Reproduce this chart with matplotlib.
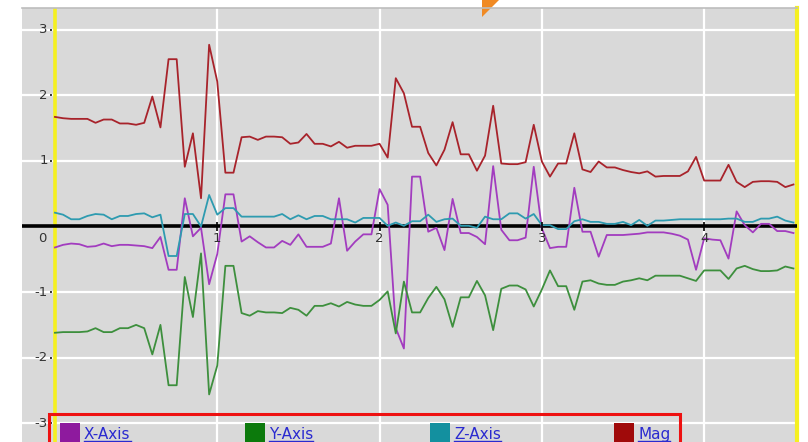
import numpy as np
import matplotlib.pyplot as plt
from matplotlib.patches import Rectangle, Polygon
from matplotlib.lines import Line2D

# accelerometer samples, one every 0.05 s
dt = 0.05
x_axis = [-0.32, -0.28, -0.26, -0.27, -0.31, -0.30, -0.26, -0.30, -0.28, -0.28,
          -0.29, -0.30, -0.33, -0.16, -0.66, -0.66, 0.43, -0.15, -0.02, -0.88,
          -0.42, 0.49, 0.49, -0.23, -0.15, -0.24, -0.32, -0.32, -0.22, -0.28,
          -0.12, -0.31, -0.31, -0.31, -0.26, 0.43, -0.37, -0.23, -0.12, -0.12,
          0.57, 0.33, -1.55, -1.86, 0.76, 0.76, -0.08, -0.02, -0.36, 0.42,
          -0.10, -0.10, -0.16, -0.27, 0.92, -0.05, -0.21, -0.21, -0.17, 0.91,
          -0.03, -0.33, -0.31, -0.31, 0.59, -0.08, -0.08, -0.46, -0.13, -0.13,
          -0.13, -0.12, -0.11, -0.09, -0.09, -0.09, -0.11, -0.14, -0.20, -0.66,
          -0.18, -0.20, -0.21, -0.49, 0.23, 0.02, -0.09, 0.04, 0.04, -0.07,
          -0.07, -0.10]
y_axis = [-1.62, -1.61, -1.61, -1.61, -1.60, -1.55, -1.61, -1.61, -1.55, -1.55,
          -1.50, -1.55, -1.95, -1.50, -2.42, -2.42, -0.77, -1.38, -0.41, -2.56,
          -2.12, -0.60, -0.60, -1.32, -1.36, -1.29, -1.31, -1.31, -1.32, -1.24,
          -1.27, -1.36, -1.21, -1.21, -1.17, -1.22, -1.15, -1.19, -1.21, -1.21,
          -1.12, -0.99, -1.63, -0.84, -1.31, -1.31, -1.09, -0.92, -1.11, -1.53,
          -1.08, -1.08, -0.83, -1.05, -1.58, -0.95, -0.90, -0.90, -0.96, -1.22,
          -0.96, -0.67, -0.91, -0.91, -1.27, -0.84, -0.82, -0.87, -0.89, -0.89,
          -0.84, -0.82, -0.79, -0.82, -0.75, -0.75, -0.75, -0.75, -0.79, -0.83,
          -0.67, -0.67, -0.67, -0.80, -0.64, -0.60, -0.65, -0.68, -0.68, -0.67,
          -0.61, -0.64]
z_axis = [0.21, 0.18, 0.11, 0.11, 0.16, 0.19, 0.18, 0.11, 0.16, 0.16,
          0.19, 0.20, 0.14, 0.18, -0.45, -0.45, 0.19, 0.19, 0.00, 0.48,
          0.18, 0.28, 0.28, 0.15, 0.15, 0.15, 0.15, 0.15, 0.19, 0.11,
          0.17, 0.11, 0.16, 0.16, 0.11, 0.11, 0.11, 0.06, 0.13, 0.13,
          0.13, 0.01, 0.06, 0.01, 0.08, 0.08, 0.18, 0.07, 0.11, 0.12,
          0.01, 0.01, -0.02, 0.15, 0.11, 0.11, 0.20, 0.20, 0.12, 0.19,
          0.02, 0.02, -0.04, -0.04, 0.08, 0.11, 0.07, 0.07, 0.04, 0.04,
          0.07, 0.02, 0.10, 0.01, 0.09, 0.09, 0.10, 0.11, 0.11, 0.11,
          0.11, 0.11, 0.11, 0.12, 0.12, 0.07, 0.07, 0.12, 0.12, 0.15,
          0.09, 0.06]
mag = [1.67, 1.65, 1.64, 1.64, 1.64, 1.58, 1.63, 1.63, 1.57, 1.57,
       1.55, 1.58, 1.98, 1.51, 2.55, 2.55, 0.91, 1.42, 0.43, 2.77,
       2.21, 0.82, 0.82, 1.36, 1.37, 1.32, 1.37, 1.37, 1.36, 1.26,
       1.28, 1.41, 1.26, 1.26, 1.22, 1.29, 1.20, 1.23, 1.23, 1.23,
       1.26, 1.05, 2.26, 2.03, 1.52, 1.52, 1.12, 0.93, 1.17, 1.59,
       1.10, 1.10, 0.85, 1.08, 1.84, 0.96, 0.95, 0.95, 0.98, 1.55,
       0.99, 0.76, 0.96, 0.96, 1.42, 0.87, 0.83, 0.99, 0.90, 0.90,
       0.86, 0.83, 0.81, 0.84, 0.76, 0.77, 0.77, 0.77, 0.84, 1.06,
       0.70, 0.70, 0.70, 0.94, 0.68, 0.60, 0.68, 0.69, 0.69, 0.68,
       0.60, 0.64]

series_names = ['X-Axis', 'Y-Axis', 'Z-Axis', 'Mag']
line_colors = ['#a23cbf', '#3d8f3d', '#2e9bb0', '#a8232b']
key_colors = ['#8e1a9e', '#0c7a0c', '#13909f', '#a00a0a']
y_ticks = [-3, -2, -1, 1, 2, 3]
x_ticks = [1, 2, 3, 4]

W, H = 808, 442
fig = plt.figure(figsize=(W / 100, H / 100), dpi=100)
fig.patch.set_facecolor('white')


def fx(px):
    return px / W


def fy(py):
    return 1 - py / H


ax = fig.add_axes([fx(22), 0, fx(797) - fx(22), fy(8)])
ax.set_facecolor('#d9d9d9')
ax.set_xlim(-0.203, 4.572)
ax.set_ylim(-3.285, 3.33)
ax.set_xticks([])
ax.set_yticks([])
for side in ['top', 'bottom', 'left']:
    ax.spines[side].set_visible(False)
ax.spines['right'].set_color('#f5f020')
ax.spines['right'].set_linewidth(3)

# grid
for v in y_ticks:
    ax.axhline(v, color='white', lw=1.6, zorder=1)
for v in x_ticks:
    ax.axvline(v, color='white', lw=1.6, zorder=1)
ax.axvline(0, color='#f5f020', lw=2.6, zorder=2)
ax.axhline(0, color='black', lw=2.6, zorder=3)

t = np.arange(len(mag)) * dt
for vals, c in zip([x_axis, y_axis, z_axis, mag], line_colors):
    ax.plot(t, vals, color=c, lw=1.3, zorder=4)

# axis labels drawn inside the plot area
for v in y_ticks:
    ax.text(-0.045, v, str(v), ha='right', va='center', fontsize=9.5, color='#333333', zorder=5)
    ax.plot([-0.032, -0.004], [v, v], color='#333333', lw=1.4, ls=(0, (1, 1.2)), zorder=5)
ax.text(-0.075, -0.08, '0', ha='center', va='top', fontsize=9.5, color='#333333', zorder=5)
for v in x_ticks:
    ax.vlines(v, -0.07, 0.07, color='black', lw=1.2, zorder=5)
    ax.text(v, -0.08, str(v), ha='center', va='top', fontsize=9.5, color='#333333', zorder=5)

# top bar shadow and marker
fig.add_artist(Line2D([fx(22), fx(797)], [fy(8), fy(8)], color='#bdbdbd', lw=1.2))
fig.add_artist(Polygon([[fx(482), fy(17)], [fx(482), fy(0)], [fx(499), fy(0)]],
                       closed=True, color='#f08a24', lw=0))

# legend strip
fig.add_artist(Rectangle((fx(49), fy(444)), fx(680) - fx(49), fy(414) - fy(444),
                         fill=False, edgecolor='#ee1111', lw=2.2))
key_x = [60, 245, 430, 614]
labels = []
for px, name, c in zip(key_x, series_names, key_colors):
    fig.add_artist(Rectangle((fx(px), fy(444)), fx(20), fy(423) - fy(444),
                             facecolor=c, edgecolor='none'))
    lab = fig.text(fx(px + 24), fy(439), name, fontsize=11, color='#2a2ad0',
                   ha='left', va='baseline')
    labels.append(lab)

fig.canvas.draw()
r = fig.canvas.get_renderer()
for lab in labels:
    bb = lab.get_window_extent(renderer=r)
    fig.add_artist(Line2D([bb.x0 / W, bb.x1 / W], [fy(441), fy(441)],
                          color='#2a2ad0', lw=1.0))

fig.savefig('out.png', dpi=100)
